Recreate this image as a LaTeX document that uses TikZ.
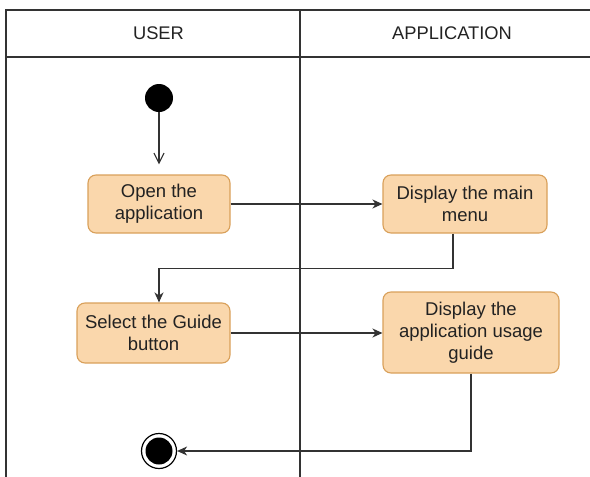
\documentclass[tikz,border=0pt]{standalone}
\usepackage{fontspec}
\setmainfont{Liberation Sans}
\usetikzlibrary{arrows.meta}

\definecolor{actfill}{HTML}{FAD7AC}
\definecolor{actdraw}{HTML}{D9A05A}
\definecolor{ink}{HTML}{222222}
\definecolor{wire}{HTML}{333333}

\tikzset{
  lane/.style={draw=wire, line width=1.3pt},
  title/.style={font=\fontsize{18.3}{22}\selectfont, text=ink, inner sep=0pt},
  action/.style={draw=actdraw, fill=actfill, line width=1.1pt, rounded corners=8pt,
    align=center, text=ink, font=\fontsize{18.5}{22}\selectfont, inner sep=2pt},
  flow/.style={draw=wire, line width=1.2pt, -{Stealth[length=10pt,width=9pt,inset=3pt]}},
  startflow/.style={draw=wire, line width=1.2pt, -{Straight Barb[length=10pt,width=10pt]}},
}

\begin{document}
\begin{tikzpicture}[x=1pt,y=-1pt]
\useasboundingbox (0,0) rectangle (590,477);

% swimlane frame
\draw[lane] (590,10) -- (6,10) -- (6,477);
\draw[lane] (6,57) -- (590,57);
\draw[lane] (300,10) -- (300,477);

% lane titles
\node[title] (huser) at (158.5,33) {USER};
\node[title] (happ) at (452,33) {APPLICATION};

% start and end states
\node[circle, fill=black, minimum size=28pt, inner sep=0pt] (init) at (159,98) {};
\node[circle, draw=black, line width=1.2pt, minimum size=35pt, inner sep=0pt] (final) at (159,451) {};
\fill[black] (final.center) circle (13.5pt);

% actions
\node[action, minimum width=142pt, minimum height=58pt] (open) at (159,204) {Open the\\application};
\node[action, minimum width=164pt, minimum height=58pt] (menu) at (465,204) {Display the main\\menu};
\node[action, minimum width=153pt, minimum height=60pt] (select) at (153.5,333) {Select the Guide\\button};
\node[action, minimum width=176pt, minimum height=81pt] (guide) at (471,332.5) {Display the\\application usage\\guide};

% control flow
\draw[startflow] (init) -- ([yshift=10pt]open.north);
\draw[flow] (open.east) -- (menu.west);
\draw[flow] ([xshift=-12pt]menu.south) -- ++(0,35) -| ([xshift=5.5pt]select.north);
\draw[flow] (select.east) -- (guide.west |- select.east);
\draw[flow] (guide.south) |- (final);
\end{tikzpicture}
\end{document}
